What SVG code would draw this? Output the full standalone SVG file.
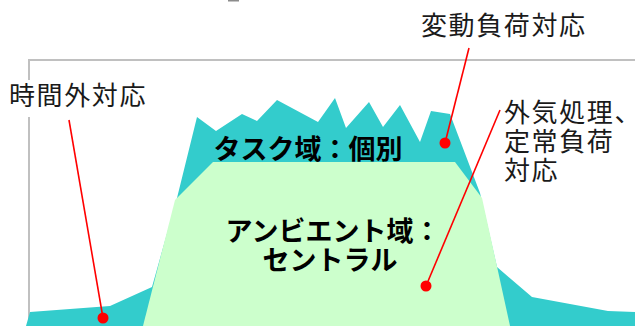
<svg xmlns="http://www.w3.org/2000/svg" width="635" height="326" viewBox="0 0 635 326">
<style>
.lbl{font-family:"Noto Sans CJK JP","Noto Sans",sans-serif;font-size:26px;letter-spacing:1.6px;fill:#1a1a1a}
.big{font-family:"Noto Sans CJK JP","Noto Sans",sans-serif;font-size:27px;font-weight:bold;fill:#000;text-anchor:middle}
.lead{stroke:#ff0000;stroke-width:1.6;fill:none}
.dot{fill:#ff0000}
.frame{stroke:#c0c0c0;stroke-width:2;fill:none}
</style>
<rect width="635" height="326" fill="#ffffff"/>
<rect x="228" y="0" width="11" height="1.5" fill="#8c8c8c"/>
<g id="frame">
<polyline class="frame" points="29,326 29,60 635,60"/>
</g>
<g id="task-area">
<polygon fill="#33cccc" points="26,326 30,312 110,306 152,287 177,198 197,117 216,131 242,114 257,121 277,100 318,122 335,98 346,128 369,102 383,127 400,105 420,142 431,111 450,114 480,193 497,267 532,297 608,311 635,312 635,326"/>
<text class="big" x="308" y="159">タスク域：個別</text>
</g>
<g id="ambient-area">
<polygon fill="#ccffcc" points="143,326 175,200 213,162 455,162 482,198 510,326"/>
<text class="big" x="333" y="241">アンビエント域：</text>
<text class="big" x="330" y="270">セントラル</text>
</g>
<g id="label-offhours">
<rect x="4" y="80" width="148" height="37" fill="#ffffff"/>
<text class="lbl" x="9" y="105">時間外対応</text>
</g>
<g id="label-variable">
<text class="lbl" x="421" y="35">変動負荷対応</text>
</g>
<g id="label-outdoor">
<text class="lbl" x="504" y="122">外気処理、</text>
<text class="lbl" x="504" y="151">定常負荷</text>
<text class="lbl" x="504" y="180">対応</text>
</g>
<g id="connectors">
<line class="lead" x1="69" y1="120" x2="103" y2="318"/>
<circle class="dot" cx="103" cy="318" r="5.5"/>
<line class="lead" x1="469" y1="48" x2="445" y2="143"/>
<circle class="dot" cx="445" cy="143" r="5.5"/>
<line class="lead" x1="500" y1="110" x2="426" y2="286"/>
<circle class="dot" cx="426" cy="286" r="5.5"/>
</g>
</svg>
